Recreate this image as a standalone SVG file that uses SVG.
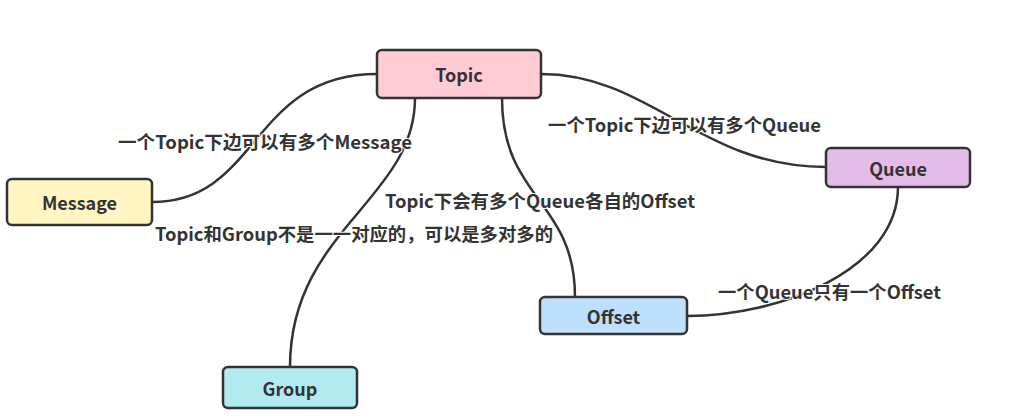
<svg xmlns="http://www.w3.org/2000/svg" width="1019" height="420" viewBox="0 0 1019 420">
<style>
.node rect{stroke:#333;stroke-width:2.5}
.node text{font-family:"Noto Sans CJK SC","Noto Sans",sans-serif;font-weight:bold;font-size:18px;fill:#333;text-anchor:middle;dominant-baseline:central}
.edge{fill:none;stroke:#333;stroke-width:2.5}
.lbl{font-family:"Noto Sans CJK SC","Noto Sans",sans-serif;font-weight:bold;font-size:18px;fill:#333;dominant-baseline:central;stroke:#fff;stroke-width:2;paint-order:stroke;stroke-linejoin:round}
</style>
<rect width="1019" height="420" fill="#fff"/>
<g id="connectors">
<path class="edge" d="M377,74 C250,74 260,202 152,202"/>
<path class="edge" d="M415,98 C415,200 290,230 290,367"/>
<path class="edge" d="M502,98 C502,200 575,200 575,297"/>
<path class="edge" d="M541,74 C650,74 700,167 826,167"/>
<path class="edge" d="M898,187 C898,270 780,316 687,316"/>
</g>
<g id="labels">
<text class="lbl" x="118" y="141" textLength="294" lengthAdjust="spacingAndGlyphs">一个Topic下边可以有多个Message</text>
<text class="lbl" x="548" y="124" textLength="273" lengthAdjust="spacingAndGlyphs">一个Topic下边可以有多个Queue</text>
<text class="lbl" x="385" y="200" textLength="310" lengthAdjust="spacingAndGlyphs">Topic下会有多个Queue各自的Offset</text>
<text class="lbl" x="155" y="233" textLength="398" lengthAdjust="spacingAndGlyphs">Topic和Group不是一一对应的，可以是多对多的</text>
<text class="lbl" x="718" y="291" textLength="223" lengthAdjust="spacingAndGlyphs">一个Queue只有一个Offset</text>
</g>
<g id="node-topic" class="node"><rect x="377" y="50" width="164" height="48" rx="5" fill="#ffccd6"/><text x="459" y="74">Topic</text></g>
<g id="node-message" class="node"><rect x="7" y="179" width="145" height="46" rx="5" fill="#fff6c4"/><text x="79.5" y="202">Message</text></g>
<g id="node-queue" class="node"><rect x="826" y="148" width="144" height="39" rx="5" fill="#e3bde8"/><text x="898" y="167.5">Queue</text></g>
<g id="node-offset" class="node"><rect x="540" y="297" width="147" height="37" rx="5" fill="#bfe0fa"/><text x="613.5" y="316">Offset</text></g>
<g id="node-group" class="node"><rect x="223" y="367" width="134" height="41" rx="5" fill="#b3eaf0"/><text x="290" y="388">Group</text></g>
</svg>
